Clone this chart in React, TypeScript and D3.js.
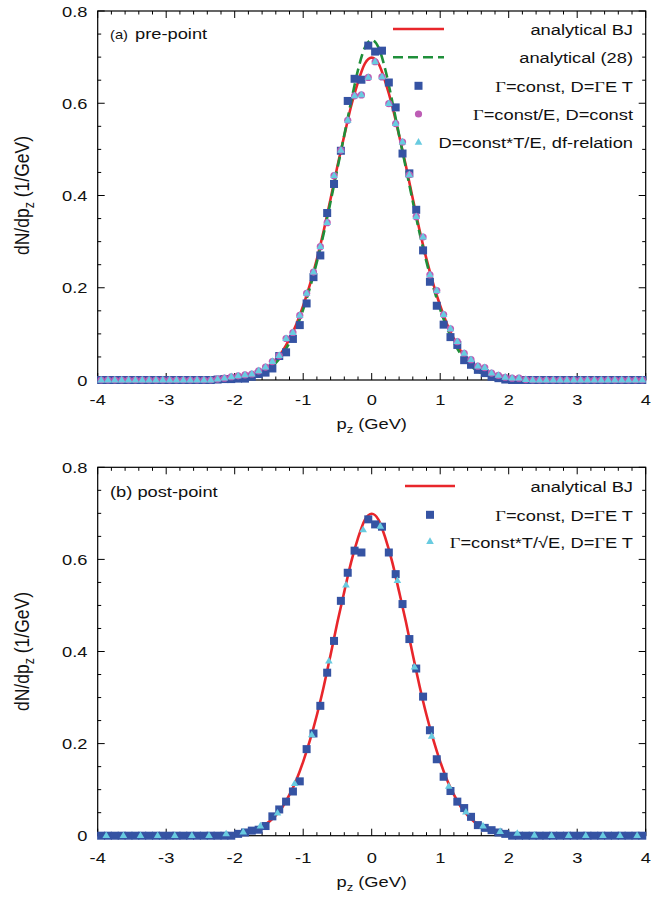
import React from 'react';
import * as d3 from 'd3';

const W = 651;
const H = 899;
const SX = 1.18;
const FONT = '"Liberation Sans", Arial, Helvetica, sans-serif';
const SERIF = '"Liberation Serif", "Times New Roman", serif';

const RED = '#e8262b';
const GREEN = '#1f8f3a';
const BLUE = '#3553a3';
const MAGENTA = '#bd5db5';
const CYAN = '#68cbe0';

// histogram bin centres (0.1 GeV bins)
const BIN_P = [
  -3.95, -3.85, -3.75, -3.65, -3.55, -3.45, -3.35, -3.25, -3.15, -3.05,
  -2.95, -2.85, -2.75, -2.65, -2.55, -2.45, -2.35, -2.25, -2.15, -2.05,
  -1.95, -1.85, -1.75, -1.65, -1.55, -1.45, -1.35, -1.25, -1.15, -1.05,
  -0.95, -0.85, -0.75, -0.65, -0.55, -0.45, -0.35, -0.25, -0.15, -0.05,
  0.05, 0.15, 0.25, 0.35, 0.45, 0.55, 0.65, 0.75, 0.85, 0.95,
  1.05, 1.15, 1.25, 1.35, 1.45, 1.55, 1.65, 1.75, 1.85, 1.95,
  2.05, 2.15, 2.25, 2.35, 2.45, 2.55, 2.65, 2.75, 2.85, 2.95,
  3.05, 3.15, 3.25, 3.35, 3.45, 3.55, 3.65, 3.75, 3.85, 3.95,
];

// (a) Γ=const, D=ΓE T
const SQ_A = [
  0, 0, 0, 0, 0, 0, 0, 0, 0, 0,
  0, 0, 0, 0, 0, 0, 0, 0.001, 0.002, 0.002,
  0.003, 0.003, 0.007, 0.013, 0.016, 0.025, 0.052, 0.06, 0.089, 0.119,
  0.166, 0.223, 0.27, 0.362, 0.425, 0.497, 0.605, 0.653, 0.651, 0.725,
  0.712, 0.714, 0.645, 0.591, 0.491, 0.448, 0.369, 0.281, 0.213, 0.161,
  0.12, 0.093, 0.076, 0.043, 0.033, 0.022, 0.015, 0.007, 0.004, 0.001,
  0, 0, 0, 0, 0, 0, 0, 0, 0, 0,
  0, 0, 0, 0, 0, 0, 0, 0, 0, 0,
];

// (a) Γ=const/E, D=const
const CIRC_A = [
  0, 0, 0, 0, 0, 0, 0, 0, 0, 0,
  0, 0, 0, 0, 0, 0, 0, 0.002, 0.004, 0.007,
  0.009, 0.011, 0.013, 0.02, 0.028, 0.04, 0.053, 0.09, 0.103, 0.14,
  0.188, 0.234, 0.289, 0.341, 0.443, 0.498, 0.563, 0.616, 0.618, 0.656,
  0.69, 0.657, 0.599, 0.556, 0.516, 0.445, 0.354, 0.31, 0.228, 0.194,
  0.142, 0.111, 0.083, 0.058, 0.044, 0.03, 0.027, 0.015, 0.01, 0.006,
  0.004, 0.004, 0.001, 0, 0, 0, 0, 0, 0, 0,
  0, 0, 0, 0, 0, 0, 0, 0, 0, 0,
];

// (a) D=const*T/E, df-relation
const TRI_A = [
  0, 0, 0, 0, 0, 0, 0, 0, 0, 0,
  0, 0, 0, 0, 0, 0, 0, 0.002, 0.004, 0.007,
  0.009, 0.011, 0.013, 0.02, 0.028, 0.04, 0.053, 0.09, 0.103, 0.14,
  0.188, 0.234, 0.289, 0.341, 0.443, 0.498, 0.563, 0.616, 0.618, 0.656,
  0.69, 0.657, 0.599, 0.556, 0.516, 0.445, 0.354, 0.31, 0.228, 0.194,
  0.142, 0.111, 0.083, 0.058, 0.044, 0.03, 0.027, 0.015, 0.01, 0.006,
  0.004, 0.004, 0.001, 0, 0, 0, 0, 0, 0, 0,
  0, 0, 0, 0, 0, 0, 0, 0, 0, 0,
];

// (b) Γ=const, D=ΓE T
const SQ_B = [
  0, 0, 0, 0, 0, 0, 0, 0, 0, 0,
  0, 0, 0, 0, 0, 0, 0, 0, 0, 0,
  0.004, 0.007, 0.011, 0.013, 0.021, 0.042, 0.057, 0.074, 0.096, 0.118,
  0.188, 0.222, 0.282, 0.354, 0.423, 0.51, 0.571, 0.619, 0.615, 0.687,
  0.676, 0.671, 0.615, 0.568, 0.503, 0.427, 0.363, 0.302, 0.229, 0.166,
  0.128, 0.097, 0.074, 0.06, 0.041, 0.023, 0.017, 0.012, 0.007, 0.004,
  0, 0, 0, 0, 0, 0, 0, 0, 0, 0,
  0, 0, 0, 0, 0, 0, 0, 0, 0, 0,
];

// (b) Γ=const*T/√E, D=ΓE T  (0.25 GeV bins)
const TRI_B_P = [
  -3.875, -3.625, -3.375, -3.125, -2.875, -2.625, -2.375, -2.125,
  -1.875, -1.625, -1.375, -1.125, -0.875, -0.625, -0.375, -0.125,
  0.125, 0.375, 0.625, 0.875, 1.125, 1.375, 1.625, 1.875,
  2.125, 2.375, 2.625, 2.875, 3.125, 3.375, 3.625, 3.875,
];
const TRI_B = [
  0, 0, 0, 0, 0, 0, 0, 0.004,
  0.008, 0.021, 0.049, 0.113, 0.219, 0.379, 0.544, 0.664,
  0.672, 0.554, 0.366, 0.216, 0.107, 0.051, 0.021, 0.009,
  0.005, 0.001, 0, 0, 0, 0, 0, 0,
];

// analytical curves
const CURVE_P = [
  -4, -2.3, -2.2, -2.1, -2.0, -1.9, -1.8, -1.7, -1.6, -1.5, -1.4, -1.3, -1.2, -1.1, -1.0,
  -0.9, -0.8, -0.7, -0.6, -0.5, -0.4, -0.3, -0.2, -0.1, 0,
  0.1, 0.2, 0.3, 0.4, 0.5, 0.6, 0.7, 0.8, 0.9,
  1.0, 1.1, 1.2, 1.3, 1.4, 1.5, 1.6, 1.7, 1.8, 1.9, 2.0, 2.1, 2.2, 2.3, 4,
];
const BJ = [
  0, 0, 0.001, 0.002, 0.003, 0.005, 0.008, 0.013, 0.02, 0.03, 0.044, 0.063, 0.089, 0.121, 0.161,
  0.208, 0.262, 0.324, 0.393, 0.464, 0.53, 0.594, 0.646, 0.686, 0.699,
  0.686, 0.646, 0.594, 0.53, 0.464, 0.393, 0.324, 0.262, 0.208,
  0.161, 0.121, 0.089, 0.063, 0.044, 0.03, 0.02, 0.013, 0.008, 0.005, 0.003, 0.002, 0.001, 0, 0,
];
const EQ28 = [
  0, 0, 0, 0.001, 0.002, 0.003, 0.005, 0.009, 0.015, 0.024, 0.037, 0.056, 0.081, 0.113, 0.153,
  0.201, 0.256, 0.318, 0.387, 0.459, 0.531, 0.604, 0.672, 0.721, 0.737,
  0.721, 0.672, 0.604, 0.531, 0.459, 0.387, 0.318, 0.256, 0.201,
  0.153, 0.113, 0.081, 0.056, 0.037, 0.024, 0.015, 0.009, 0.005, 0.003, 0.002, 0.001, 0, 0, 0,
];

const X_TICKS = [-4, -3, -2, -1, 0, 1, 2, 3, 4];
const X_TICK_LABELS = ['-4', '-3', '-2', '-1', '0', '1', '2', '3', '4'];
const Y_TICKS = [0, 0.2, 0.4, 0.6, 0.8];
const Y_TICK_LABELS = ['0', '0.2', '0.4', '0.6', '0.8'];

type Seg = { t: string; serif?: boolean };

const LEG_A_TEXT: Seg[][] = [
  [{ t: 'analytical BJ' }],
  [{ t: 'analytical (28)' }],
  [{ t: 'Γ', serif: true }, { t: '=const, D=' }, { t: 'Γ', serif: true }, { t: 'E T' }],
  [{ t: 'Γ', serif: true }, { t: '=const/E, D=const' }],
  [{ t: 'D=const*T/E, df-relation' }],
];
const LEG_B_TEXT: Seg[][] = [
  [{ t: 'analytical BJ' }],
  [{ t: 'Γ', serif: true }, { t: '=const, D=' }, { t: 'Γ', serif: true }, { t: 'E T' }],
  [{ t: 'Γ', serif: true }, { t: '=const*T/√E, D=' }, { t: 'Γ', serif: true }, { t: 'E T' }],
];

const X0 = 97.7;
const X1 = 645.7;

function T({ x, y, anchor = 'start', size = 15.5, children }: any) {
  return (
    <g transform={`translate(${x},${y}) scale(${SX},1)`}>
      <text x={0} y={0} textAnchor={anchor} fontSize={size} fontFamily={FONT} fill="#111">
        {children}
      </text>
    </g>
  );
}

function Segs({ segs }: { segs: Seg[] }) {
  return (
    <>
      {segs.map((s, i) => (
        <tspan key={i} fontFamily={s.serif ? SERIF : FONT}>
          {s.t}
        </tspan>
      ))}
    </>
  );
}

function Square({ cx, cy }: { cx: number; cy: number }) {
  return <rect x={cx - 4} y={cy - 4} width={8} height={8} fill={BLUE} />;
}
function Circ({ cx, cy }: { cx: number; cy: number }) {
  return <circle cx={cx} cy={cy} r={3.6} fill={MAGENTA} />;
}
function Tri({ cx, cy }: { cx: number; cy: number }) {
  return (
    <path
      d={`M${cx},${cy - 4.2}L${cx + 3.8},${cy + 2.4}L${cx - 3.8},${cy + 2.4}Z`}
      fill={CYAN}
    />
  );
}

type PanelProps = {
  top: number;
  bottom: number;
  xTickY: number;
  xLabelY: number;
  panel: 'a' | 'b';
};

function Panel({ top, bottom, xTickY, xLabelY, panel }: PanelProps) {
  const x = d3.scaleLinear().domain([-4, 4]).range([X0, X1]);
  const y = d3.scaleLinear().domain([0, 0.8]).range([bottom, top]);
  const line = d3
    .line<number>()
    .x((_, i) => x(CURVE_P[i]))
    .y((d) => y(d))
    .curve(d3.curveMonotoneX);

  const xMinor = d3.range(-4, 4.0001, 0.2);
  const yMinor = d3.range(0, 0.8001, 0.05);
  const MAJ = 7;
  const MIN = 3.5;

  const yMid = (top + bottom) / 2;
  const xMid = x(0);

  const legRowsA = [29, 57.3, 85.8, 114, 142.3];
  const legRowsB = [486, 514.8, 541.5];
  const rows = panel === 'a' ? legRowsA : legRowsB;
  const texts = panel === 'a' ? LEG_A_TEXT : LEG_B_TEXT;
  const lx0 = panel === 'a' ? 393 : 405;
  const lx1 = panel === 'a' ? 444 : 455;
  const lxm = (lx0 + lx1) / 2;
  const textEnd = 633;

  return (
    <g>
      {/* frame */}
      <rect x={X0} y={top} width={X1 - X0} height={bottom - top} fill="none" stroke="#000" strokeWidth={1.2} />
      {xMinor.map((v, i) => {
        const isMaj = Math.abs(v - Math.round(v)) < 1e-6;
        const L = isMaj ? MAJ : MIN;
        return (
          <g key={'xt' + i}>
            <line x1={x(v)} x2={x(v)} y1={bottom} y2={bottom - L} stroke="#000" strokeWidth={1} />
            <line x1={x(v)} x2={x(v)} y1={top} y2={top + L} stroke="#000" strokeWidth={1} />
          </g>
        );
      })}
      {yMinor.map((v, i) => {
        const isMaj = Math.abs(v * 5 - Math.round(v * 5)) < 1e-6;
        const L = isMaj ? MAJ : MIN;
        return (
          <g key={'yt' + i}>
            <line x1={X0} x2={X0 + L} y1={y(v)} y2={y(v)} stroke="#000" strokeWidth={1} />
            <line x1={X1} x2={X1 - L} y1={y(v)} y2={y(v)} stroke="#000" strokeWidth={1} />
          </g>
        );
      })}
      {X_TICKS.map((v, i) => (
        <T key={'xl' + i} x={x(v)} y={xTickY} anchor="middle">
          {X_TICK_LABELS[i]}
        </T>
      ))}
      {Y_TICKS.map((v, i) => (
        <T key={'yl' + i} x={87.5} y={y(v) + 5.5} anchor="end">
          {Y_TICK_LABELS[i]}
        </T>
      ))}

      {/* axis titles */}
      <T x={xMid} y={xLabelY} anchor="middle">
        p<tspan dy={4} fontSize={11}>z</tspan>
        <tspan dy={-4}> (GeV)</tspan>
      </T>
      <g transform={`translate(29,${yMid}) scale(${SX},1) rotate(-90)`}>
        <text textAnchor="middle" fontSize={17.5} fontFamily={FONT} fill="#111">
          dN/dp<tspan dy={4} fontSize={12.5}>z</tspan>
          <tspan dy={-4}> (1/GeV)</tspan>
        </text>
      </g>

      {/* panel tag */}
      {panel === 'a' ? (
        <>
          <T x={110} y={top + 28} size={12.5}>(a)</T>
          <T x={135} y={top + 28}>pre-point</T>
        </>
      ) : (
        <T x={110} y={top + 29.5}>(b) post-point</T>
      )}

      {/* curves */}
      <path d={line(BJ) || ''} fill="none" stroke={RED} strokeWidth={2.6} />
      {panel === 'a' && (
        <path d={line(EQ28) || ''} fill="none" stroke={GREEN} strokeWidth={2.6} strokeDasharray="10,5" />
      )}

      {/* points */}
      {panel === 'a' ? (
        <>
          {SQ_A.map((v, i) => <Square key={'sa' + i} cx={x(BIN_P[i])} cy={y(v)} />)}
          {CIRC_A.map((v, i) => <Circ key={'ca' + i} cx={x(BIN_P[i])} cy={y(v)} />)}
          {TRI_A.map((v, i) => <Tri key={'ta' + i} cx={x(BIN_P[i])} cy={y(v)} />)}
        </>
      ) : (
        <>
          {SQ_B.map((v, i) => <Square key={'sb' + i} cx={x(BIN_P[i])} cy={y(v)} />)}
          {TRI_B.map((v, i) => <Tri key={'tb' + i} cx={x(TRI_B_P[i])} cy={y(v)} />)}
        </>
      )}

      {/* legend */}
      {texts.map((segs, i) => (
        <T key={'lg' + i} x={textEnd} y={rows[i] + 6} anchor="end">
          <Segs segs={segs} />
        </T>
      ))}
      <line x1={lx0} x2={lx1} y1={rows[0]} y2={rows[0]} stroke={RED} strokeWidth={2.6} />
      {panel === 'a' ? (
        <>
          <line x1={lx0} x2={lx1} y1={rows[1]} y2={rows[1]} stroke={GREEN} strokeWidth={2.6} strokeDasharray="10,5" />
          <Square cx={lxm} cy={rows[2]} />
          <Circ cx={lxm} cy={rows[3]} />
          <Tri cx={lxm} cy={rows[4]} />
        </>
      ) : (
        <>
          <Square cx={lxm} cy={rows[1]} />
          <Tri cx={lxm} cy={rows[2]} />
        </>
      )}
    </g>
  );
}

export default function App() {
  return (
    <svg
      width={W}
      height={H}
      viewBox={`0 0 ${W} ${H}`}
      style={{ position: 'absolute', left: 0, top: 0, background: '#fff' }}
    >
      <rect x={0} y={0} width={W} height={H} fill="#fff" />
      <Panel top={11} bottom={380} xTickY={405} xLabelY={428.5} panel="a" />
      <Panel top={467.3} bottom={835.7} xTickY={863} xLabelY={887} panel="b" />
    </svg>
  );
}
